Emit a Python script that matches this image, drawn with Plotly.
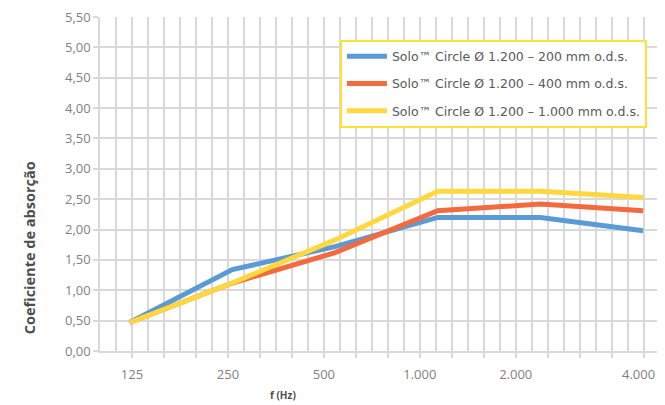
import plotly.graph_objects as go

freqs = ["125", "250", "500", "1.000", "2.000", "4.000"]
series_names = [
    "Solo™ Circle Ø 1.200 – 200 mm o.d.s.",
    "Solo™ Circle Ø 1.200 – 400 mm o.d.s.",
    "Solo™ Circle Ø 1.200 – 1.000 mm o.d.s.",
]
blue_vals = [0.47, 1.34, 1.72, 2.20, 2.20, 1.98]
red_vals = [0.47, 1.12, 1.62, 2.31, 2.42, 2.31]
yellow_vals = [0.47, 1.12, 1.83, 2.63, 2.63, 2.53]
colors = ["#5B9BD5", "#F26A3D", "#FFD83F"]

y_ticks = [i * 0.5 for i in range(12)]

FONT = "Open Sans, sans-serif"
GRID = "#d9d9d9"

x_idx = list(range(len(freqs)))

fig = go.Figure()
for name, vals, col in zip(series_names, [blue_vals, red_vals, yellow_vals], colors):
    fig.add_trace(go.Scatter(
        x=x_idx, y=vals, mode="lines", name=name, legendgroup=name,
        line=dict(color=col, width=5),
        hoverinfo="skip",
    ))

# axis geometry: 1 category step = 104 px; grid step ~16.19 px
step = 16.19 / 104.0
x0 = -30.0 / 104.0
tick_k = list(range(2, 35, 2))
label_at = {2: freqs[0], 8: freqs[1], 14: freqs[2], 20: freqs[3], 26: freqs[4],
            34: freqs[5] + "\u00a0\u00a0\u00a0"}
tickvals = [x0 + k * step for k in tick_k]
ticktext = [label_at.get(k, "") for k in tick_k]

# page body has an 8px margin: the figure is sized to fit the window
W, H = 657, 397
PL, PT = 92, 7
PB = 343.5

fig.update_layout(
    width=W, height=H,
    margin=dict(l=PL, r=0, t=PT, b=H - PB),
    paper_bgcolor="white", plot_bgcolor="white",
    separators=",.",
    font=dict(family=FONT, color="#7f7f7f"),
    showlegend=True,
    legend=dict(
        x=0.43, y=0.932, xanchor="left", yanchor="top",
        bgcolor="white", bordercolor="#FFE033", borderwidth=2,
        font=dict(size=12.5, color="#595959", family="DejaVu Sans, sans-serif"),
        tracegroupgap=8,
        itemwidth=40,
    ),
    xaxis=dict(
        range=[x0, 5 + 15.0 / 104.0],
        tickmode="array", tickvals=tickvals, ticktext=ticktext,
        ticks="outside", ticklen=5, tickcolor=GRID, tickwidth=1.5,
        showgrid=True, gridcolor=GRID, gridwidth=1.5,
        minor=dict(tickmode="linear", tick0=x0, dtick=step, showgrid=True,
                   gridcolor=GRID, gridwidth=1.5, ticks=""),
        showline=True, linecolor=GRID, linewidth=1.5,
        zeroline=False,
        tickfont=dict(size=13, color="#7f7f7f", family=FONT),
        ticklabelstandoff=6,
        ticklabeloverflow="allow",
    ),
    yaxis=dict(
        range=[0, 5.501],
        tickmode="array", tickvals=y_ticks,
        tickformat=".2f",
        ticks="outside", ticklen=5, tickcolor=GRID, tickwidth=1.5,
        showgrid=True, gridcolor=GRID, gridwidth=1.5,
        showline=True, linecolor=GRID, linewidth=1.5,
        zeroline=False,
        tickfont=dict(size=13, color="#7f7f7f", family=FONT),
        ticklabeloverflow="allow",
    ),
    annotations=[
        dict(text="<b>Coeficiente de absorção</b>", textangle=-90,
             xref="paper", yref="paper",
             x=-(100 - 28) / 565.0, y=(351.5 - 247) / 336.5,
             xanchor="center", yanchor="middle", showarrow=False,
             font=dict(size=14.5, color="#4d4d4d", family=FONT)),
        dict(text="<b>f (Hz)</b>", xref="paper", yref="paper",
             x=(285 - 100) / 565.0, y=-(396 - 351.5) / 336.5,
             xanchor="center", yanchor="middle", showarrow=False,
             font=dict(size=10, color="#4d4d4d", family=FONT)),
    ],
)

fig.write_html("out.html")
